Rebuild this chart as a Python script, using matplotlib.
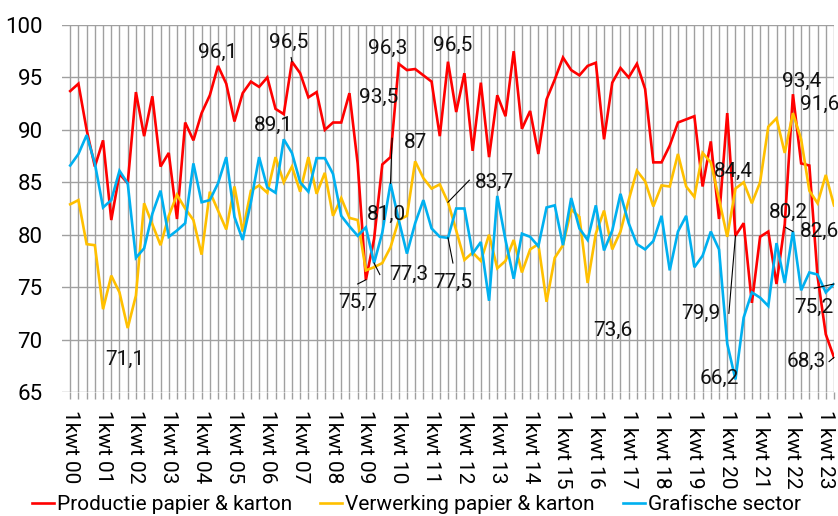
import numpy as np
import matplotlib
matplotlib.use("Agg")
import matplotlib.pyplot as plt

# --- data (index, quarterly, 1kwt 2000 .. 2kwt 2023) ------------------------
YEARS = [f"{y:02d}" for y in range(0, 24)]
TICK_LABELS = [("1kwt " if int(y) < 15 else "1 kwt ") + y for y in YEARS]

productie = [93.7, 94.4, 90.0, 86.5, 89.0, 81.4, 85.8, 84.9, 93.6, 89.4,
             93.2, 86.5, 87.8, 81.5, 90.7, 89.0, 91.6, 93.3, 96.1, 94.4,
             90.8, 93.5, 94.6, 94.1, 95.0, 92.0, 91.5, 96.5, 95.4, 93.1,
             93.6, 90.0, 90.7, 90.7, 93.5, 86.8, 75.7, 79.6, 86.7, 87.4,
             96.3, 95.7, 95.8, 95.2, 94.6, 89.4, 96.5, 91.7, 95.4, 88.0,
             94.5, 87.4, 93.3, 91.3, 97.5, 90.1, 91.8, 87.7, 92.9, 94.8,
             96.9, 95.7, 95.2, 96.1, 96.4, 89.1, 94.5, 95.9, 95.0, 96.3,
             93.9, 86.9, 86.9, 88.5, 90.7, 91.0, 91.3, 84.6, 88.9, 81.5,
             91.6, 79.9, 81.1, 73.5, 79.8, 80.3, 75.3, 81.0, 93.4, 86.8,
             86.6, 76.0, 70.5, 68.3]

verwerking = [82.9, 83.3, 79.1, 79.0, 72.9, 76.1, 74.5, 71.1, 74.2, 83.0,
              81.0, 79.0, 81.8, 83.8, 82.5, 81.4, 78.1, 84.1, 82.3, 80.5,
              84.6, 80.3, 84.2, 84.7, 84.0, 87.4, 85.0, 86.5, 84.1, 87.4,
              83.9, 85.9, 81.8, 83.5, 81.6, 81.4, 76.6, 76.9, 77.3, 78.8,
              81.4, 81.8, 87.0, 85.4, 84.4, 84.8, 83.1, 80.4, 77.6, 78.3,
              77.5, 80.0, 76.8, 77.5, 79.5, 76.4, 78.6, 79.1, 73.6, 77.8,
              79.0, 82.4, 81.7, 75.4, 80.1, 82.3, 78.6, 80.3, 83.3, 86.1,
              85.1, 82.7, 84.7, 84.6, 87.7, 84.6, 83.6, 87.8, 86.9, 83.4,
              79.8, 84.4, 85.0, 83.0, 85.0, 90.3, 91.1, 87.8, 91.6, 89.1,
              84.2, 83.0, 85.7, 82.8]

grafisch = [86.6, 87.7, 89.5, 86.8, 82.6, 83.3, 86.1, 84.9, 77.8, 78.7,
            82.0, 84.2, 79.8, 80.4, 81.1, 86.8, 83.1, 83.3, 84.9, 87.4,
            81.7, 79.5, 83.1, 87.4, 84.5, 84.0, 89.1, 87.8, 85.0, 84.1,
            87.3, 87.3, 85.8, 81.8, 80.8, 79.9, 80.7, 77.3, 80.2, 84.9,
            81.4, 78.2, 81.1, 83.3, 80.6, 79.8, 79.7, 82.5, 82.5, 78.2,
            79.3, 73.7, 83.7, 79.5, 75.8, 80.1, 79.8, 78.9, 82.6, 82.8,
            79.0, 83.5, 80.6, 79.5, 82.8, 78.5, 80.4, 83.9, 81.1, 79.1,
            78.6, 79.4, 81.8, 76.6, 80.3, 81.8, 76.9, 78.0, 80.3, 78.6,
            69.6, 66.2, 72.1, 74.5, 74.0, 73.2, 79.2, 75.4, 80.3, 74.7,
            76.4, 76.2, 74.5, 75.3]

SERIES = {
    "Productie papier & karton": (productie, "#ff0000"),
    "Verwerking papier & karton": (verwerking, "#ffc000"),
    "Grafische sector": (grafisch, "#00b0f0"),
}

# value labels: text, (x, y) of the text in data units
LABELS = [
    ("96,1", 18.0, 97.4), ("96,5", 26.6, 98.3), ("96,3", 38.7, 97.8),
    ("96,5", 46.6, 98.1), ("93,5", 37.6, 93.1), ("87", 42.0, 88.8),
    ("83,7", 51.7, 85.0), ("89,1", 24.8, 90.4), ("81,0", 38.5, 81.9),
    ("77,3", 41.2, 76.2), ("75,7", 35.0, 73.5), ("77,5", 46.6, 75.5),
    ("73,6", 66.1, 70.9), ("71,1", 6.6, 68.1), ("84,4", 80.7, 86.0),
    ("79,9", 76.8, 72.5), ("66,2", 79.0, 66.3), ("80,2", 87.4, 82.1),
    ("82,6", 91.2, 80.3), ("93,4", 89.1, 94.6), ("91,6", 91.2, 92.4),
    ("75,2", 90.5, 73.1), ("68,3", 89.6, 67.9),
]
# leader lines: start of line (data units) -> point of a series
LEADERS = [
    ((26.9, 96.9), productie, 27), ((39.2, 89.2), grafisch, 39),
    ((48.6, 85.2), verwerking, 46), ((37.7, 76.2), grafisch, 37),
    ((35.0, 75.3), productie, 36), ((46.6, 77.3), grafisch, 46),
    ((80.2, 72.5), productie, 81), ((87.1, 80.7), grafisch, 88),
    ((90.6, 74.9), grafisch, 93), ((92.4, 67.9), productie, 93),
]

plt.rcParams["font.family"] = ["Roboto", "DejaVu Sans"]

fig = plt.figure(figsize=(8.38, 5.16), dpi=100)
ax = fig.add_axes([62 / 838, 1 - 392 / 516, 772 / 838, 367 / 516])

x = np.arange(len(productie))
for name, (vals, col) in SERIES.items():
    ax.plot(x, vals, color=col, lw=1.9, label=name, solid_joinstyle="miter",
            zorder=3)

for txt, tx, ty in LABELS:
    ax.text(tx, ty, txt, fontsize=15, ha="center", va="center",
            color="#111111", zorder=5, clip_on=False)
for (sx, sy), vals, i in LEADERS:
    ax.plot([sx, i], [sy, vals[i]], color="black", lw=0.8, zorder=4,
            clip_on=False)

ax.set_xlim(-1, len(productie) - 1)
ax.set_ylim(65, 100)
ax.set_yticks(np.arange(65, 101, 5))
ax.set_xticks(x, minor=True)
ax.set_xticks(x[::4])
ax.set_xticklabels(TICK_LABELS, rotation=270, fontsize=15)
ax.tick_params(axis="x", which="both", length=5, color="#a0a0a0",
               width=1.0, pad=8)
ax.tick_params(axis="y", length=0, pad=14, labelsize=16)
ax.grid(True, which="both", color="#a0a0a0", lw=1.0, zorder=1)
for spine in ax.spines.values():
    spine.set_visible(False)

fig.legend(loc="center", bbox_to_anchor=(0.497, 0.022), ncol=3,
           frameon=False, fontsize=15, handlelength=1.05,
           handletextpad=0.15, columnspacing=1.35, borderpad=0)

fig.savefig("out.png", dpi=100)
